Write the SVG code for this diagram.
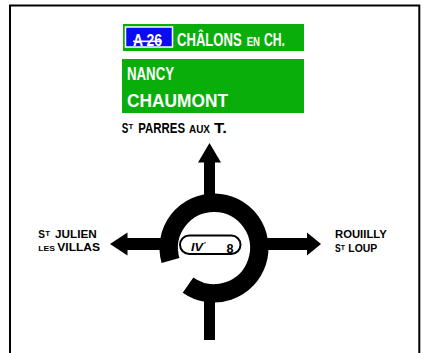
<svg xmlns="http://www.w3.org/2000/svg" width="426" height="353" viewBox="0 0 426 353">
<style>
text{font-family:"Liberation Sans",Arial,sans-serif;font-weight:bold}
.w{fill:#ffffff}
.k{fill:#000000}
.green{fill:#0aae0a}
.blk{fill:#000000}
</style>
<rect width="426" height="353" fill="#ffffff"/>
<rect id="frame" x="10" y="5.5" width="409.3" height="360" fill="none" stroke="#000" stroke-width="2"/>

<g id="panel-chalons">
  <rect class="green" x="123" y="24" width="181" height="27"/>
  <rect x="125.5" y="27" width="47" height="20" fill="#0a0af5" stroke="#ffffff" stroke-width="1.5"/>
  <text class="w" x="133" y="46" font-size="16" textLength="29" lengthAdjust="spacingAndGlyphs" text-decoration="line-through">A 26</text>
  <text class="w" y="46"><tspan x="177" font-size="18" textLength="64.7" lengthAdjust="spacingAndGlyphs">CHÂLONS</tspan><tspan x="246.7" font-size="12.5" textLength="13.3" lengthAdjust="spacingAndGlyphs">EN</tspan><tspan x="264" font-size="18" textLength="21" lengthAdjust="spacingAndGlyphs">CH.</tspan></text>
</g>

<g id="panel-destinations">
  <rect class="green" x="122" y="59" width="182" height="54"/>
  <text class="w" x="127" y="80" font-size="18" textLength="47" lengthAdjust="spacingAndGlyphs">NANCY</text>
  <text class="w" x="127" y="107" font-size="18" textLength="101" lengthAdjust="spacingAndGlyphs">CHAUMONT</text>
</g>

<g id="label-north">
  <text class="k"><tspan x="121.7" y="133" font-size="14" textLength="6.6" lengthAdjust="spacingAndGlyphs">S</tspan><tspan x="128.5" y="128.5" font-size="8" textLength="4.8" lengthAdjust="spacingAndGlyphs">T</tspan><tspan x="138.3" y="133" font-size="14" textLength="46.7" lengthAdjust="spacingAndGlyphs">PARRES</tspan><tspan x="189" y="133" font-size="10" textLength="21" lengthAdjust="spacingAndGlyphs">AUX</tspan><tspan x="214" y="133" font-size="14" textLength="13" lengthAdjust="spacingAndGlyphs">T.</tspan></text>
</g>

<g id="label-west">
  <text class="k"><tspan x="38.3" y="238" font-size="10.5" textLength="6.7" lengthAdjust="spacingAndGlyphs">S</tspan><tspan x="45.2" y="235.6" font-size="7" textLength="4.8" lengthAdjust="spacingAndGlyphs">T</tspan><tspan x="55" y="238" font-size="10.5" textLength="41.7" lengthAdjust="spacingAndGlyphs">JULIEN</tspan></text>
  <text class="k"><tspan x="38.3" y="251" font-size="8" textLength="16.7" lengthAdjust="spacingAndGlyphs">LES</tspan><tspan x="57.3" y="251" font-size="10.5" textLength="42.7" lengthAdjust="spacingAndGlyphs">VILLAS</tspan></text>
</g>

<g id="label-east">
  <text class="k" x="335" y="238" font-size="10.5" textLength="51.7" lengthAdjust="spacingAndGlyphs">ROUIILLY</text>
  <text class="k"><tspan x="335" y="252" font-size="10.5" textLength="5.7" lengthAdjust="spacingAndGlyphs">S</tspan><tspan x="340.8" y="249.5" font-size="7" textLength="4.2" lengthAdjust="spacingAndGlyphs">T</tspan><tspan x="348.3" y="252" font-size="10.5" textLength="29" lengthAdjust="spacingAndGlyphs">LOUP</tspan></text>
</g>

<g id="connectors" fill="#000">
  <rect x="204" y="160" width="11" height="40"/>
  <polygon points="198,162.5 209.5,143 221,162.5"/>
  <rect x="126" y="238" width="40" height="12"/>
  <polygon points="127.5,232.5 110,244 127.5,255.5"/>
  <rect x="262" y="238" width="46" height="12"/>
  <polygon points="307,232.5 321,244 307,255.5"/>
  <rect x="204" y="295" width="11" height="45"/>
</g>

<g id="roundabout">
  <path d="M170.5,260.47 A45.25,45.25 0 1 1 188.04,285.07" fill="none" stroke="#000" stroke-width="18.5"/>
  <rect x="180" y="235.5" width="60.5" height="18.5" rx="9.25" fill="#fff" stroke="#000" stroke-width="2"/>
  <text class="k" x="191" y="250.5" font-size="10" font-style="italic" textLength="12" lengthAdjust="spacingAndGlyphs">IV</text>
  <text class="k" x="203.5" y="247" font-size="8" font-style="italic">'</text>
  <text class="k" x="226.5" y="253" font-size="13" textLength="7" lengthAdjust="spacingAndGlyphs">8</text>
</g>
</svg>
